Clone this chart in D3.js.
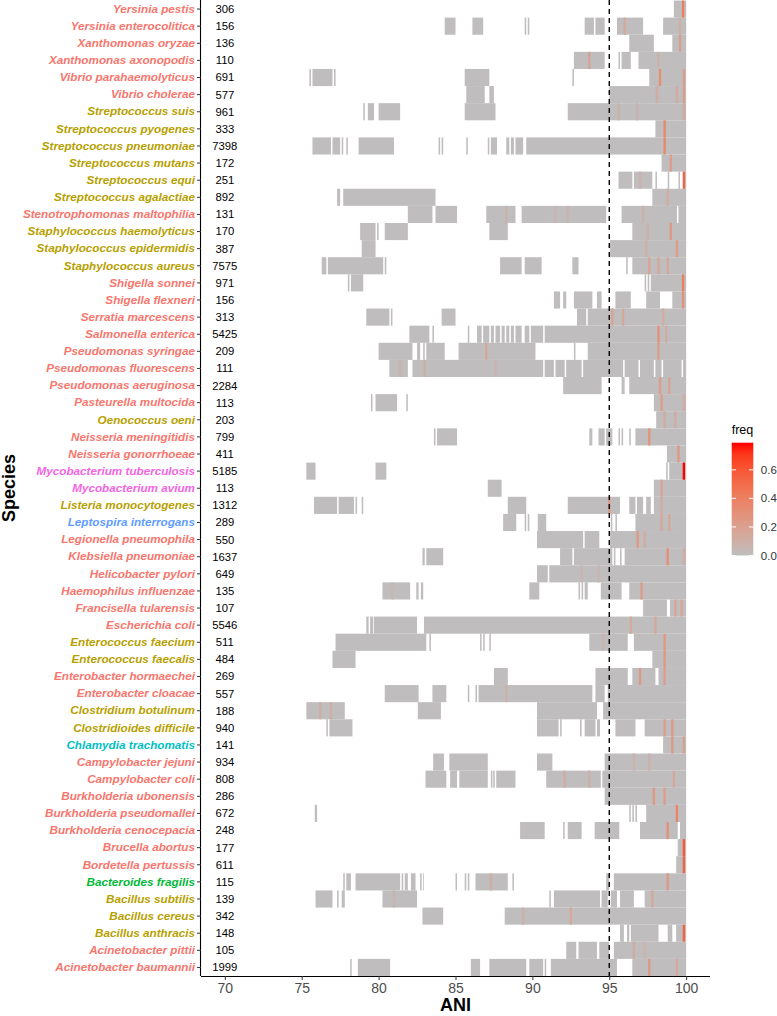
<!DOCTYPE html>
<html>
<head>
<meta charset="utf-8">
<script src="https://cdn.jsdelivr.net/npm/d3@7"></script>
<style>
  body { margin: 0; background: #fff; }
  text { font-family: "Liberation Sans", Arial, sans-serif; }
</style>
</head>
<body>
<svg id="chart" width="777" height="1016"></svg>
<script>
// species, top to bottom
const species = [
  "Yersinia pestis", "Yersinia enterocolitica", "Xanthomonas oryzae", "Xanthomonas axonopodis",
  "Vibrio parahaemolyticus", "Vibrio cholerae", "Streptococcus suis", "Streptococcus pyogenes",
  "Streptococcus pneumoniae", "Streptococcus mutans", "Streptococcus equi", "Streptococcus agalactiae",
  "Stenotrophomonas maltophilia", "Staphylococcus haemolyticus", "Staphylococcus epidermidis",
  "Staphylococcus aureus", "Shigella sonnei", "Shigella flexneri", "Serratia marcescens",
  "Salmonella enterica", "Pseudomonas syringae", "Pseudomonas fluorescens", "Pseudomonas aeruginosa",
  "Pasteurella multocida", "Oenococcus oeni", "Neisseria meningitidis", "Neisseria gonorrhoeae",
  "Mycobacterium tuberculosis", "Mycobacterium avium", "Listeria monocytogenes", "Leptospira interrogans",
  "Legionella pneumophila", "Klebsiella pneumoniae", "Helicobacter pylori", "Haemophilus influenzae",
  "Francisella tularensis", "Escherichia coli", "Enterococcus faecium", "Enterococcus faecalis",
  "Enterobacter hormaechei", "Enterobacter cloacae", "Clostridium botulinum", "Clostridioides difficile",
  "Chlamydia trachomatis", "Campylobacter jejuni", "Campylobacter coli", "Burkholderia ubonensis",
  "Burkholderia pseudomallei", "Burkholderia cenocepacia", "Brucella abortus", "Bordetella pertussis",
  "Bacteroides fragilis", "Bacillus subtilis", "Bacillus cereus", "Bacillus anthracis",
  "Acinetobacter pittii", "Acinetobacter baumannii"
];

const counts = [306, 156, 136, 110, 691, 577, 961, 333, 7398, 172, 251, 892, 131, 170, 387, 7575,
  971, 156, 313, 5425, 209, 111, 2284, 113, 203, 799, 411, 5185, 113, 1312, 289, 550, 1637, 649,
  135, 107, 5546, 511, 484, 269, 557, 188, 940, 141, 934, 808, 286, 672, 248, 177, 611, 115, 139,
  342, 148, 105, 1999];

// P proteobacteria, F firmicutes, A actinobacteria, S spirochaetes, C chlamydiae, B bacteroidetes
const phylum = ["P","P","P","P","P","P","F","F","F","F","F","F","P","F","F","F","P","P","P","P",
  "P","P","P","P","F","P","P","A","A","F","S","P","P","P","P","P","P","F","F","P","P","F","F","C",
  "P","P","P","P","P","P","P","B","F","F","F","P","P"];

const phylumColors = {P: "#F8766D", F: "#B79F00", A: "#F564E3", S: "#619CFF", C: "#00BFC4", B: "#00BA38"};

// ANI ranges covered by tiles, one list per species (same order)
const ranges = [
  [[99.2,100]],
  [[84.3,85],[86.1,86.8],[89.5,89.6],[89.7,89.8],[93.4,94.0],[94.1,94.7],[95.5,97.2],[98.5,100]],
  [[96.3,97.9],[99.1,100]],
  [[92.7,94.7],[95.6,95.7],[95.8,96.4],[96.9,100]],
  [[75.5,75.6],[75.7,77.0],[77.1,77.2],[85.6,87.2],[92.6,92.7],[97.6,100]],
  [[85.7,86.9],[87.2,87.5],[95,100]],
  [[79.0,79.1],[79.3,79.7],[80.0,81.4],[85.6,87.6],[92.3,100]],
  [[98.0,100]],
  [[75.7,76.9],[77.0,77.5],[77.6,77.7],[77.9,78.0],[78.7,81.0],[83.9,84.0],[84.1,84.2],[85.7,85.8],
   [87.1,87.2],[87.3,87.7],[88.3,88.5],[88.6,88.8],[88.9,89.4],[89.6,100]],
  [[98.4,100]],
  [[95.6,96.5],[96.6,97.8],[98.0,98.1],[98.8,98.9],[99.5,99.6],[99.8,100]],
  [[77.3,77.5],[77.7,83.7],[97.8,100]],
  [[81.9,83.5],[83.7,85.1],[87.0,88.9],[89.3,94.8],[95.8,99.4],[99.5,100]],
  [[78.8,79.8],[79.9,80.0],[80.4,81.9],[87.2,88.4],[96.5,100]],
  [[78.9,79.8],[95.05,100]],
  [[76.3,76.6],[76.7,80.3],[80.4,80.5],[87.9,89.3],[89.5,90.6],[92.6,93.0],[96.1,96.2],[96.5,100]],
  [[78.0,78.1],[78.2,79.0],[97.3,97.4],[97.5,97.6],[97.7,100]],
  [[91.4,91.8],[92.0,92.2],[92.7,93.9],[94.2,94.5],[95.4,96.4],[97.4,98.3],[99.1,100]],
  [[79.2,80.7],[80.8,80.9],[84.1,85.0],[92.9,93.5],[93.6,100]],
  [[82.0,83.3],[83.5,83.6],[85.8,85.9],[86.4,86.7],[86.8,87.2],[87.3,87.5],[87.6,87.9],[88.0,88.2],
   [88.3,88.5],[88.6,88.8],[88.9,89.3],[89.5,89.8],[89.9,90.7],[90.8,100]],
  [[80.0,82.2],[82.5,82.7],[82.9,83.0],[83.1,84.3],[85.2,90.2],[92.7,92.8],[93.6,100]],
  [[80.7,81.9],[82.2,90.7],[90.8,91.4],[91.5,92.1],[92.2,93.2],[93.3,95.9],[96.0,96.9],[97.0,97.9],
   [98.0,98.4],[98.5,99.7],[99.8,100]],
  [[92.0,94.5],[95.8,96.0],[96.3,100]],
  [[79.5,79.6],[79.8,81.2],[81.8,81.9],[97.9,100]],
  [[98.05,100]],
  [[83.6,83.7],[83.8,85.1],[93.7,93.9],[94.3,94.7],[94.8,95.2],[95.6,95.7],[95.8,95.9],[96.3,96.4],[96.7,100]],
  [[98.75,100]],
  [[75.3,75.9],[79.8,80.5],[98.7,98.8],[98.9,100]],
  [[87.1,88.0],[97.9,100]],
  [[75.8,77.3],[77.4,78.4],[78.5,78.6],[78.9,79.0],[88.4,89.6],[92.3,95.7],[96.3,96.7],[96.8,97.2],
   [97.4,97.7],[97.9,100]],
  [[88.1,88.95],[89.5,89.6],[89.7,89.8],[90.35,90.9],[95.1,95.2],[95.4,95.5],[96.7,100]],
  [[90.3,93.3],[93.4,94.35],[95.05,100]],
  [[82.85,83.0],[83.1,84.2],[91.8,92.6],[92.7,95.2],[95.3,95.4],[95.7,95.8],[96.0,100]],
  [[90.3,91.0],[91.1,100]],
  [[80.25,82.05],[82.45,82.6],[82.75,82.9],[89.8,90.45],[93.0,93.1],[93.2,93.3],[93.4,93.6],[94.45,95.8],[96.3,100]],
  [[97.2,98.75],[98.95,100]],
  [[79.2,79.35],[79.45,79.65],[79.7,82.5],[82.95,100]],
  [[77.2,83.1],[83.3,83.4],[86.6,86.7],[86.8,86.9],[87.2,87.3],[93.7,96.2],[96.6,100]],
  [[77.0,78.5],[97.8,100]],
  [[87.5,88.4],[94.1,96.2],[96.5,98.0],[98.2,100]],
  [[80.4,82.6],[83.5,84.4],[85.8,85.9],[86.3,86.4],[86.5,93.9],[94.1,94.7],[94.9,100]],
  [[75.3,77.8],[82.55,84.05],[90.3,94.2],[94.6,100]],
  [[76.6,76.7],[76.8,78.3],[90.3,91.7],[91.8,91.9],[93.1,93.2],[93.4,94.1],[94.2,94.4],[95.4,96.7],[97.3,100]],
  [[98.5,100]],
  [[83.55,84.25],[84.6,87.1],[90.3,91.3],[94.7,100]],
  [[83.05,84.4],[84.65,85.1],[85.25,87.1],[87.3,87.4],[87.45,87.55],[87.65,88.9],[90.9,94.45],[94.55,100]],
  [[94.7,100]],
  [[75.85,76.0],[96.3,96.4],[96.5,96.6],[96.7,96.8],[97.4,100]],
  [[89.2,90.8],[92.0,92.1],[92.3,93.2],[94.05,95.65],[97.0,99.45],[99.6,100]],
  [[99.45,100]],
  [[99.35,100]],
  [[77.7,77.8],[77.9,78.2],[78.5,81.4],[81.5,81.6],[81.7,81.9],[82.1,82.4],[82.7,82.8],[82.9,82.95],
   [85.0,85.1],[85.6,85.7],[85.8,85.9],[86.3,88.4],[88.7,88.8],[94.8,95.0],[95.3,100]],
  [[75.9,77.0],[77.3,77.4],[77.6,77.8],[80.25,82.5],[91.1,91.2],[91.4,94.4],[94.5,94.9],[95.1,95.5],
   [95.7,96.6],[97.3,100]],
  [[82.85,84.2],[88.2,100]],
  [[95.7,95.95],[96.15,96.3],[96.4,98.2],[98.8,99.1],[99.35,99.8],[99.9,100]],
  [[92.2,92.85],[93.0,94.2],[94.35,95.0],[95.3,100]],
  [[78.15,78.25],[78.65,80.75],[86.0,86.6],[87.2,89.6],[89.8,90.7],[90.8,90.9],[91.2,95.5],[96.5,100]]
];

// [species index, ANI, freq] for tiles with visible frequency
const hotspots = [
  [0,99.8,0.4],[1,96.0,0.15],[1,99.6,0.1],[2,99.6,0.2],[3,93.7,0.18],[3,98.2,0.08],
  [4,98.3,0.32],[4,99.9,0.22],[5,98.1,0.12],[5,99.4,0.12],[5,99.9,0.22],[6,95.6,0.07],[6,96.8,0.07],
  [6,99.9,0.15],[7,98.6,0.35],[8,98.6,0.35],[9,99.0,0.22],[10,99.9,0.55],[10,97.0,0.08],[11,98.8,0.12],
  [12,88.3,0.08],[12,91.5,0.06],[12,92.3,0.06],[12,97.2,0.08],[13,99.0,0.25],[13,97.5,0.08],
  [14,99.4,0.22],[14,97.4,0.08],[15,97.6,0.18],[15,98.2,0.15],[15,98.8,0.15],[16,99.8,0.4],
  [17,99.8,0.3],[18,95.2,0.18],[18,95.9,0.15],[18,98.5,0.12],[19,98.2,0.3],[19,98.7,0.12],
  [20,87.0,0.15],[20,98.2,0.22],[21,81.4,0.08],[21,83.0,0.1],[21,87.6,0.06],[22,98.3,0.22],[22,98.9,0.18],
  [23,98.4,0.22],[23,99.9,0.12],[24,98.6,0.12],[24,99.3,0.12],[25,97.6,0.28],[26,99.5,0.25],
  [27,99.9,0.79],[28,98.4,0.18],[29,95.0,0.25],[29,98.4,0.12],[30,98.4,0.15],[30,98.9,0.15],
  [31,96.85,0.25],[31,97.3,0.12],[32,98.8,0.32],[32,99.9,0.12],[33,93.2,0.06],[33,94.3,0.06],
  [34,97.1,0.22],[34,80.9,0.04],[35,99.3,0.18],[35,99.7,0.18],[36,96.4,0.15],[36,98.0,0.15],
  [37,98.6,0.25],[37,94.6,0.06],[38,98.6,0.25],[39,97.0,0.25],[39,98.6,0.22],[40,88.3,0.08],
  [41,76.2,0.1],[41,76.9,0.1],[42,98.6,0.22],[42,99.1,0.25],[43,99.1,0.25],[43,99.9,0.2],
  [44,96.6,0.08],[44,97.6,0.08],[45,92.1,0.12],[45,93.7,0.1],[45,99.2,0.15],[46,97.9,0.25],
  [46,98.6,0.22],[47,99.4,0.38],[48,98.8,0.3],[49,99.9,0.6],[50,99.9,0.55],[51,87.3,0.12],
  [51,98.8,0.25],[52,81.0,0.06],[52,97.8,0.15],[53,89.4,0.08],[53,92.5,0.15],[54,99.95,0.55],
  [55,96.6,0.12],[55,97.3,0.08],[56,97.6,0.25],[56,99.4,0.15]
];

const xTicks = [70, 75, 80, 85, 90, 95, 100];
const legendTicks = [0.0, 0.2, 0.4, 0.6];
const cutoff = 95;
const freqMax = 0.79;

const panel = {left: 201, right: 710, top: 0, bottom: 976};

const svg = d3.select("#chart");

const x = d3.scaleLinear()
    .domain([68.45, 101.55])
    .range([panel.left, panel.right]);

const y = d3.scaleBand()
    .domain(species)
    .range([panel.top + 0.5, panel.bottom])
    .padding(0);

const fill = d3.scaleLinear()
    .domain([0, freqMax])
    .range(["#BEBEBE", "#FF0000"])
    .interpolate(d3.interpolateLab);

// grey tiles
const tileData = [];
ranges.forEach((list, i) => list.forEach(r => tileData.push({sp: species[i], x0: r[0], x1: r[1]})));

svg.append("g")
    .selectAll("rect")
    .data(tileData)
    .enter().append("rect")
    .attr("x", d => x(d.x0))
    .attr("width", d => x(d.x1) - x(d.x0))
    .attr("y", d => y(d.sp))
    .attr("height", y.bandwidth())
    .attr("fill", fill(0.005));

// coloured tiles
svg.append("g")
    .selectAll("rect")
    .data(hotspots)
    .enter().append("rect")
    .attr("x", d => x(Math.min(d[1], 99.85) - 0.075))
    .attr("width", x(0.15) - x(0))
    .attr("y", d => y(species[d[0]]))
    .attr("height", y.bandwidth())
    .attr("fill", d => fill(d[2]));

// count labels at ANI 70
svg.append("g")
    .selectAll("text")
    .data(species)
    .enter().append("text")
    .attr("x", x(70))
    .attr("y", d => y(d) + y.bandwidth() / 2)
    .attr("dy", "0.35em")
    .attr("text-anchor", "middle")
    .style("font-size", "11.3px")
    .style("fill", "#000")
    .text((d, i) => counts[i]);

// 95% ANI cutoff
svg.append("line")
    .attr("x1", x(cutoff)).attr("x2", x(cutoff))
    .attr("y1", panel.top).attr("y2", panel.bottom)
    .attr("stroke", "#000")
    .attr("stroke-width", 1.4)
    .attr("stroke-dasharray", "5,4");

// axes
const xAxis = d3.axisBottom(x).tickValues(xTicks).tickSize(4).tickPadding(3);
const gx = svg.append("g")
    .attr("transform", "translate(0," + panel.bottom + ")")
    .call(xAxis);
gx.select(".domain").attr("d", "M" + panel.left + ",0.5H" + panel.right).attr("stroke", "#000").attr("stroke-width", 1.1);
gx.selectAll(".tick line").attr("stroke", "#333");
gx.selectAll(".tick text")
    .style("font-size", "14px")
    .style("fill", "#4D4D4D")
    .style("font-family", "'Liberation Sans', Arial, sans-serif");

const yAxis = d3.axisLeft(y).tickSize(4).tickPadding(2);
const gy = svg.append("g")
    .attr("transform", "translate(" + panel.left + ",0)")
    .call(yAxis);
gy.select(".domain").attr("d", "M-0.5," + panel.top + "V" + panel.bottom).attr("stroke", "#000").attr("stroke-width", 1.1);
gy.selectAll(".tick line").attr("stroke", "#333");
gy.selectAll(".tick text")
    .style("font-size", "11.7px")
    .style("font-weight", "bold")
    .style("font-style", "italic")
    .style("font-family", "'Liberation Sans', Arial, sans-serif")
    .style("fill", (d, i) => phylumColors[phylum[i]]);

// axis titles
svg.append("text")
    .attr("transform", "translate(15," + ((panel.top + panel.bottom) / 2) + ") rotate(-90)")
    .attr("text-anchor", "middle")
    .style("font-size", "18px")
    .style("font-weight", "bold")
    .text("Species");

svg.append("text")
    .attr("x", (panel.left + panel.right) / 2)
    .attr("y", 1011)
    .attr("text-anchor", "middle")
    .style("font-size", "18px")
    .style("font-weight", "bold")
    .text("ANI");

// legend
const legY = d3.scaleLinear().domain([0, freqMax]).range([555.5, 442.7]);
const legX = 731.7, legW = 21.6;

const grad = svg.append("defs").append("linearGradient")
    .attr("id", "freqGrad")
    .attr("x1", "0").attr("y1", "1").attr("x2", "0").attr("y2", "0");
d3.range(0, 1.001, 0.1).forEach(t => {
  grad.append("stop").attr("offset", t).attr("stop-color", fill(t * freqMax));
});

svg.append("text")
    .attr("x", legX)
    .attr("y", 434)
    .style("font-size", "12.5px")
    .text("freq");

svg.append("rect")
    .attr("x", legX)
    .attr("y", legY(freqMax))
    .attr("width", legW)
    .attr("height", legY(0) - legY(freqMax))
    .attr("fill", "url(#freqGrad)");

const legG = svg.append("g");
legG.selectAll("line.l")
    .data(legendTicks)
    .enter().append("line")
    .attr("x1", legX).attr("x2", legX + 4.3)
    .attr("y1", d => legY(d)).attr("y2", d => legY(d))
    .attr("stroke", "#fff");
legG.selectAll("line.r")
    .data(legendTicks)
    .enter().append("line")
    .attr("x1", legX + legW - 4.3).attr("x2", legX + legW)
    .attr("y1", d => legY(d)).attr("y2", d => legY(d))
    .attr("stroke", "#fff");
legG.selectAll("text")
    .data(legendTicks)
    .enter().append("text")
    .attr("x", legX + legW + 7.5)
    .attr("y", d => legY(d))
    .attr("dy", "0.35em")
    .style("font-size", "11.5px")
    .style("fill", "#333")
    .text(d => d.toFixed(1));
</script>
</body>
</html>
